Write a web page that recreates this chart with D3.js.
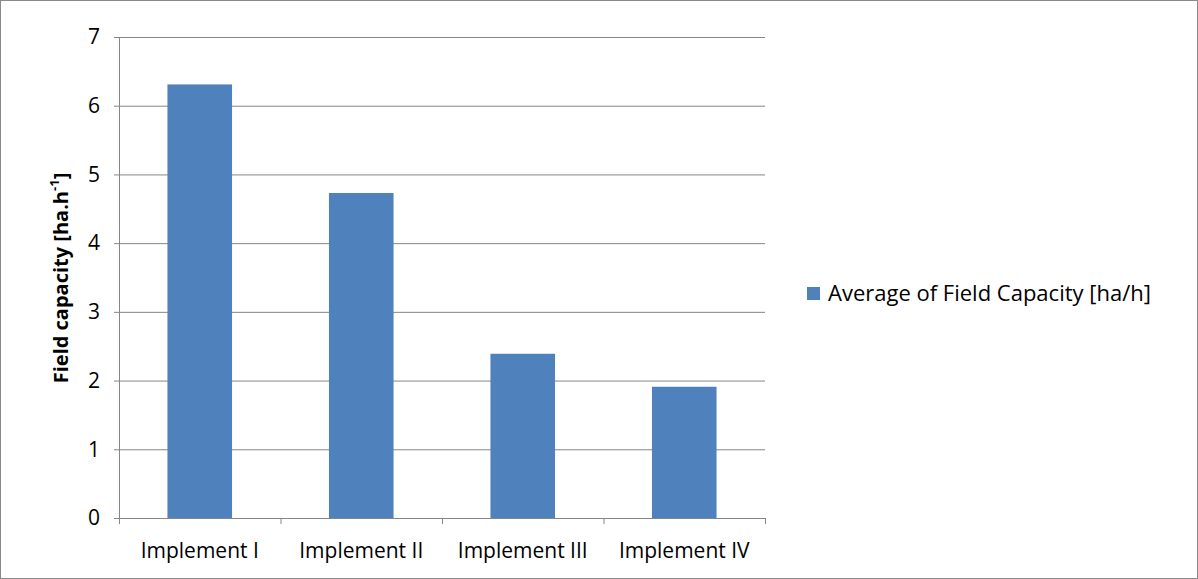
<!DOCTYPE html>
<html><head><meta charset="utf-8">
<script src="https://cdn.jsdelivr.net/npm/d3@7"></script>
<style>body{margin:0;background:#fff}text{font-family:"Open Sans",sans-serif}</style>
</head><body>
<svg width="1198" height="579"></svg>
<script>
var categories = ["Implement I","Implement II","Implement III","Implement IV"];
var values = [6.31, 4.73, 2.39, 1.91];
var yTicks = [0,1,2,3,4,5,6,7];
var seriesName = "Average of Field Capacity [ha/h]";

var margin = {left:119, top:37, right:433, bottom:61};
var width = 1198 - margin.left - margin.right;
var height = 579 - margin.top - margin.bottom;

var svg = d3.select("svg");
svg.append("rect").attr("x",0.5).attr("y",0.5).attr("width",1197).attr("height",578)
  .attr("fill","#fff").attr("stroke","#898989");

var g = svg.append("g").attr("transform","translate("+margin.left+","+margin.top+")");

var x = d3.scaleBand().domain(categories).range([0,width]).paddingInner(0.6).paddingOuter(0.3);
var y = d3.scaleLinear().domain([0,7]).range([height,0]);

// gridlines
g.selectAll(".grid").data(yTicks).enter().append("line")
  .attr("x1",0).attr("x2",width)
  .attr("y1",function(d){return y(d)+0.5;}).attr("y2",function(d){return y(d)+0.5;})
  .attr("stroke","#868686");

g.selectAll(".bar").data(values).enter().append("rect")
  .attr("x",function(d,i){return x(categories[i]);})
  .attr("y",function(d){return y(d);})
  .attr("width",x.bandwidth())
  .attr("height",function(d){return height - y(d);})
  .attr("fill","#4f81bd");

var yAxis = d3.axisLeft(y).tickValues(yTicks).tickFormat(d3.format("d")).tickSize(5).tickPadding(14);
g.append("g").call(yAxis).call(function(a){
  a.selectAll("path,line").attr("stroke","#868686");
  a.selectAll("text").attr("font-size","21px").attr("fill","#000");
});

// x axis with boundary ticks
var step = width / categories.length;
var xa = g.append("g").attr("transform","translate(0,"+height+")");
xa.append("line").attr("x1",0).attr("x2",width).attr("y1",0.5).attr("y2",0.5).attr("stroke","#868686");
xa.selectAll(".tk").data(d3.range(categories.length+1)).enter().append("line")
  .attr("x1",function(i){return i*step+0.5;}).attr("x2",function(i){return i*step+0.5;})
  .attr("y1",0).attr("y2",6).attr("stroke","#868686");
xa.selectAll(".lb").data(categories).enter().append("text")
  .attr("x",function(d){return x(d)+x.bandwidth()/2;})
  .attr("y",40).attr("text-anchor","middle").attr("font-size","21px").text(function(d){return d;});

var yl = svg.append("text").attr("transform","translate(68,278) rotate(-90)")
  .attr("text-anchor","middle").attr("font-size","20px").attr("font-weight","bold");
yl.append("tspan").text("Field capacity [ha.h");
yl.append("tspan").attr("baseline-shift","super").attr("font-size","13px").text("-1");
yl.append("tspan").text("]");

svg.append("rect").attr("x",807).attr("y",287).attr("width",13).attr("height",13).attr("fill","#4f81bd");
svg.append("text").attr("x",828).attr("y",301).attr("font-size","22px").text(seriesName);
</script>
</body></html>
